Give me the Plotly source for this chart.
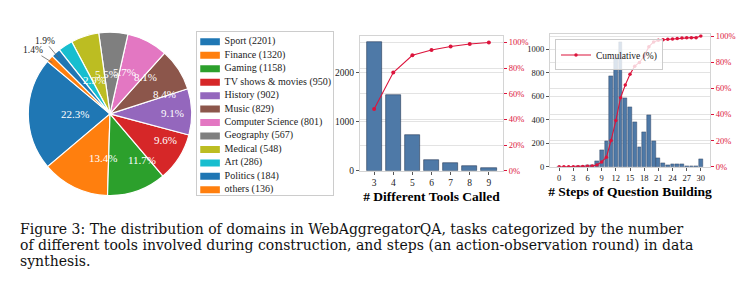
import math
import plotly.graph_objects as go

W, H = 748, 294
SERIF = "Liberation Serif"
CAPFONT = "DejaVu Serif"
RED = "#DC143C"
BAR = "#4E79A7"
BAR_EDGE = "rgba(35,55,85,0.85)"
GRID = "#e3e3e3"
FRAME = "#d4d4d4"
TICKC = "#222222"

# ---------------- data ----------------
domains = ["Sport", "Finance", "Gaming", "TV shows & movies", "History", "Music",
           "Computer Science", "Geography", "Medical", "Art", "Politics", "others"]
domain_counts = [2201, 1320, 1158, 950, 902, 829, 801, 567, 548, 286, 184, 136]
pie_colors = ["#1f77b4", "#ff7f0e", "#2ca02c", "#d62728", "#9467bd", "#8c564b",
              "#e377c2", "#7f7f7f", "#bcbd22", "#17becf", "#1f77b4", "#ff7f0e"]

tools_x = [3, 4, 5, 6, 7, 8, 9]
tools_counts = [2604, 1535, 723, 228, 149, 103, 63]
tools_cum = [48.2, 76.6, 90.0, 94.2, 96.9, 98.8, 100.0]
tools_left_ticks = [0, 1000, 2000]

steps_x = list(range(31))
steps_counts = [0, 0, 0, 0, 1, 3, 13, 13, 50, 144, 221, 774, 924, 1065, 586, 508,
                377, 166, 299, 437, 221, 77, 27, 15, 20, 22, 22, 8, 8, 2, 69]
steps_cum = [0, 0, 0, 0, 0.0, 0.1, 0.3, 0.5, 1.3, 3.7, 7.3, 20.1, 35.3, 52.8, 62.5,
             70.8, 77.0, 79.8, 84.7, 91.9, 95.5, 96.8, 97.2, 97.5, 97.8, 98.2, 98.5,
             98.7, 98.8, 98.8, 100.0]
steps_ticks = [0, 3, 6, 9, 12, 15, 18, 21, 24, 27, 30]
steps_left_ticks = [0, 200, 400, 600, 800, 1000]
pct_ticks = [0, 20, 40, 60, 80, 100]
pct_labels = ["0%", "20%", "40%", "60%", "80%", "100%"]

caption_lines = [
    "Figure 3: The distribution of domains in WebAggregatorQA, tasks categorized by the number",
    "of different tools involved during construction, and steps (an action-observation round) in data",
    "synthesis.",
]

# ---------------- layout geometry (paper fractions) ----------------
pie_dx = [26 / W, 194 / W]
pie_dy = [1 - 198 / H, 1 - 30 / H]
leg_dx = [197 / W, 333 / W]
leg_dy = [1 - 197 / H, 1 - 30 / H]
c2_dx = [360 / W, 503 / W]
c2_dy = [1 - 172.5 / H, 1 - 34 / H]
c3_dx = [550 / W, 710 / W]
c3_dy = [1 - 168.3 / H, 1 - 32 / H]

fig = go.Figure()

# ---------------- pie ----------------
START = 140  # degrees, counter-clockwise from 3 o'clock (start of first wedge)
total = sum(domain_counts)
# plotly (counterclockwise): rotation marks the CCW end of the first slice, clockwise from 12 o'clock
first_end = START + 360 * domain_counts[0] / total
fig.add_trace(go.Pie(
    labels=domains, values=domain_counts, sort=False, direction="counterclockwise",
    rotation=90 - first_end,
    marker=dict(colors=pie_colors, line=dict(color="white", width=1.2)),
    textinfo="none", hoverinfo="label+value+percent", showlegend=False,
    domain=dict(x=pie_dx, y=pie_dy),
))

annotations = []
pw = (pie_dx[1] - pie_dx[0]) * W
ph = (pie_dy[1] - pie_dy[0]) * H
r = min(pw, ph) / 2
cx = (pie_dx[0] + pie_dx[1]) / 2 * W
cy = H * (1 - pie_dy[0]) - ph / 2
acc = 0
small_i = 0
for v in domain_counts:
    frac = v / total
    mid = math.radians(START + 360 * (acc + v / 2) / total)
    acc += v
    label = f"{100 * frac:.1f}%"
    if frac >= 0.02:
        px = cx + 0.6 * r * math.cos(mid)
        py = cy - 0.6 * r * math.sin(mid)
        annotations.append(dict(x=px / W, y=1 - py / H, xref="paper", yref="paper",
                                text=label, showarrow=False, borderpad=0,
                                font=dict(family=SERIF, size=11, color="white")))
    else:
        tx = cx + 0.93 * r * math.cos(mid)
        ty = cy - 0.93 * r * math.sin(mid)
        f = 1.19 if small_i == 0 else 1.2
        lx = cx + f * r * math.cos(mid) + (1 if small_i == 0 else -3)
        ly = cy - f * r * math.sin(mid) + (0 if small_i == 0 else 3)
        small_i += 1
        annotations.append(dict(x=tx / W, y=1 - ty / H, xref="paper", yref="paper",
                                ax=lx - tx, ay=ly - ty, text=label, showarrow=True,
                                arrowhead=0, arrowwidth=0.8, arrowcolor="#666666",
                                standoff=0, startstandoff=0, borderpad=0,
                                font=dict(family=SERIF, size=9.5, color="#222222")))

# ---------------- pie legend (hidden axes) ----------------
rows = list(range(len(domains)))
fig.add_trace(go.Scatter(
    x=[0.096] * len(domains), y=rows, mode="markers", xaxis="x5", yaxis="y5",
    marker=dict(symbol="line-ew", size=14, line=dict(width=7, color=pie_colors)),
    hoverinfo="skip", showlegend=False,
))
fig.add_trace(go.Scatter(
    x=[0.203] * len(domains), y=rows, mode="text", xaxis="x5", yaxis="y5",
    text=[f"{d} ({c})" for d, c in zip(domains, domain_counts)],
    textposition="middle right", textfont=dict(family=SERIF, size=10, color="#222222"),
    hoverinfo="skip", showlegend=False,
))

# ---------------- chart 2: tools ----------------
fig.add_trace(go.Bar(
    x=tools_x, y=tools_counts, width=0.8, xaxis="x", yaxis="y",
    marker=dict(color=BAR, line=dict(color=BAR_EDGE, width=0.7)), showlegend=False,
))
fig.add_trace(go.Scatter(
    x=tools_x, y=tools_cum, xaxis="x", yaxis="y2", mode="lines+markers",
    line=dict(color=RED, width=1.1), marker=dict(color=RED, size=4), showlegend=False,
))

# ---------------- chart 3: steps ----------------
fig.add_trace(go.Bar(
    x=steps_x, y=steps_counts, width=0.8, xaxis="x3", yaxis="y3",
    marker=dict(color=BAR, line=dict(color=BAR_EDGE, width=0.5)), showlegend=False,
))
fig.add_trace(go.Scatter(
    x=steps_x, y=steps_cum, xaxis="x3", yaxis="y4", mode="lines+markers",
    name="Cumulative (%)", line=dict(color=RED, width=1.1),
    marker=dict(color=RED, size=3.5), showlegend=True,
))

for i, line in enumerate(caption_lines):
    annotations.append(dict(x=19 / W, y=1 - (232.5 + 16.5 * i) / H, xref="paper", yref="paper",
                            xanchor="left", yanchor="middle", showarrow=False, text=line,
                            borderpad=0,
                            font=dict(family=CAPFONT, size=14, color="#111111")))

titlefont = dict(family=SERIF, size=13.5, color="#000000")


def tf(size, color=TICKC):
    return dict(family=SERIF, size=size, color=color)


def xax(domain, anchor, rng, tickvals, title, fs):
    return dict(domain=domain, anchor=anchor, range=rng, tickmode="array", tickvals=tickvals,
                showgrid=False, zeroline=False, showline=True, mirror=True, linecolor=FRAME,
                linewidth=1, ticks="outside", ticklen=3, tickcolor="#555555", tickfont=tf(fs),
                title=dict(text=f"<b>{title}</b>", font=titlefont, standoff=4))


def yax(domain, anchor, rng, tickvals, fs):
    return dict(domain=domain, anchor=anchor, range=rng, tickmode="array", tickvals=tickvals,
                showgrid=True, gridcolor=GRID, gridwidth=1, zeroline=False, showline=True,
                mirror=True, linecolor=FRAME, linewidth=1, ticks="outside", ticklen=3,
                tickcolor="#555555", tickfont=tf(fs))


def yrt(overlay, anchor, rng, fs):
    return dict(overlaying=overlay, anchor=anchor, side="right", range=rng, tickmode="array",
                tickvals=pct_ticks, ticktext=pct_labels, showgrid=True, gridcolor=GRID,
                gridwidth=1, zeroline=False, showline=False, ticks="outside", ticklen=3,
                tickcolor=RED, tickfont=tf(fs, RED))


fig.update_layout(
    width=W, height=H, margin=dict(l=0, r=0, t=0, b=0),
    paper_bgcolor="white", plot_bgcolor="white",
    xaxis=xax(c2_dx, "y", [2.26, 9.74], tools_x, "# Different Tools Called", 9.5),
    yaxis=yax(c2_dy, "x", [0, 2735], tools_left_ticks, 9.5),
    yaxis2=yrt("y", "x", [0, 105], 8.5),
    xaxis3=xax(c3_dx, "y3", [-1.94, 31.94], steps_ticks, "# Steps of Question Building", 8.5),
    yaxis3=yax(c3_dy, "x3", [0, 1131], steps_left_ticks, 8.5),
    yaxis4=yrt("y3", "x3", [0, 101.5], 8.5),
    xaxis5=dict(domain=leg_dx, anchor="y5", range=[0, 1], showgrid=False, zeroline=False,
                showticklabels=False, ticks="", showline=True, mirror=True,
                linecolor="#cccccc", linewidth=1, fixedrange=True),
    yaxis5=dict(domain=leg_dy, anchor="x5", range=[11.36, -0.72], showgrid=False,
                zeroline=False, showticklabels=False, ticks="", showline=True, mirror=True,
                linecolor="#cccccc", linewidth=1, fixedrange=True),
    showlegend=True,
    legend=dict(x=555 / W, y=1 - 37.5 / H, xanchor="left", yanchor="top",
                bgcolor="rgba(255,255,255,0.8)", bordercolor="#cccccc", borderwidth=1,
                font=dict(family=SERIF, size=9.5, color="#222222"), itemwidth=30,
                tracegroupgap=0),
    annotations=annotations,
    bargap=0,
)

fig.write_html("out.html")
